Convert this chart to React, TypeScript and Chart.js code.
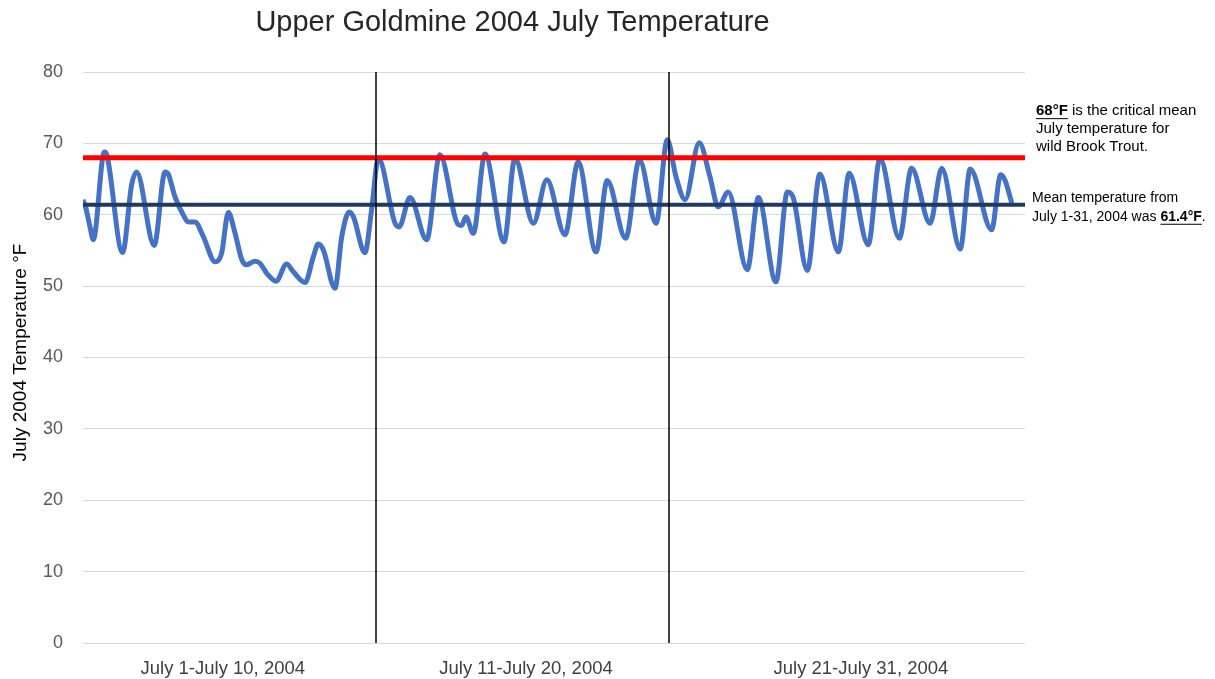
import React, { useEffect, useRef } from "react";
import { Chart, registerables } from "chart.js";

Chart.register(...registerables);

const chartTitle = "Upper Goldmine 2004 July Temperature";
const yAxisTitle = "July 2004 Temperature °F";
const periodLabels = ["July 1-July 10, 2004", "July 11-July 20, 2004", "July 21-July 31, 2004"];
const periodLabelDays = [4.77, 15.12, 26.55];
const periodDividerDays = [10, 20];
const axisMaxDay = 32.15;
const yMin = 0;
const yMax = 80;
const yStep = 10;

const criticalTempF = 68;
const meanTempF = 61.4;

// turning points of the logged temperature curve (day offset, °F)
const tempDays = [
  0, 0.1, 0.24, 0.35, 0.73, 0.82, 1.35, 1.66, 1.83, 2.43, 2.8, 2.91, 3.14, 3.42, 3.59, 3.82,
  4.11, 4.51, 4.73, 4.96, 5.19, 5.42, 5.59, 5.87, 6.04, 6.27, 6.59, 6.95, 7.18, 7.58, 7.86,
  8.03, 8.2, 8.6, 8.83, 9.09, 9.23, 9.62, 9.85, 10.08, 10.65, 10.79, 11.16, 11.73, 12.18,
  12.81, 12.92, 13.07, 13.32, 13.72, 14.37, 14.74, 15.37, 15.83, 16.45, 16.9, 17.51, 17.89,
  18.52, 18.99, 19.56, 19.94, 20.24, 20.55, 21.03, 21.4, 21.68, 22.02, 22.67, 23.05, 23.65,
  24.04, 24.24, 24.72, 25.15, 25.78, 26.15, 26.8, 27.2, 27.86, 28.28, 28.91, 29.31, 29.94,
  30.28, 31.01, 31.32, 31.47, 31.7,
];
const tempValuesF = [
  62.1, 60.9, 58.3, 56.5, 68.8, 68.3, 54.7, 64.2, 66.0, 55.7, 66.0, 65.7, 62.5, 60.0, 59.0, 59.0,
  56.9, 53.4, 54.6, 60.3, 57.4, 53.7, 53.0, 53.5, 53.2, 51.8, 50.7, 53.1, 52.0, 50.5, 54.1,
  55.9, 55.1, 49.7, 56.9, 60.4, 59.7, 54.7, 60.7, 67.9, 58.8, 58.3, 62.4, 56.5, 68.4,
  58.6, 58.5, 59.7, 57.4, 68.5, 56.2, 67.9, 58.8, 64.9, 57.2, 67.4, 54.8, 64.8,
  56.7, 67.7, 58.8, 70.5, 65.3, 62.1, 70.1, 65.3, 61.1, 63.2, 52.3, 62.4, 50.6,
  63.2, 62.4, 52.2, 65.7, 54.8, 65.8, 55.8, 67.9, 56.7, 66.5, 58.8, 66.5, 55.2,
  66.4, 57.9, 65.6, 64.8, 61.6,
];

type Seg = { t: string; b?: boolean };
const criticalNote: Seg[][] = [
  [{ t: "68°F", b: true }, { t: " is the critical mean" }],
  [{ t: "July temperature for" }],
  [{ t: "wild Brook Trout." }],
];
const meanNote: Seg[][] = [
  [{ t: "Mean temperature from" }],
  [{ t: "July 1-31, 2004 was " }, { t: "61.4°F", b: true }, { t: "." }],
];

const FONT = "'Liberation Sans', Arial, sans-serif";

function drawNote(ctx: CanvasRenderingContext2D, lines: Seg[][], x: number, ys: number[], size: number) {
  ctx.textBaseline = "middle";
  ctx.textAlign = "left";
  ctx.fillStyle = "#000000";
  lines.forEach((line, i) => {
    let cx = x;
    const y = ys[i];
    line.forEach((s) => {
      ctx.font = `${s.b ? "bold " : ""}${size}px ${FONT}`;
      ctx.fillText(s.t, cx, y);
      const w = ctx.measureText(s.t).width;
      if (s.b) {
        ctx.fillRect(cx, y + size * 0.5, w, 1);
      }
      cx += w;
    });
  });
}

const textPlugin = {
  id: "textPlugin",
  afterDraw(chart: any) {
    const { ctx, chartArea } = chart;
    const yScale = chart.scales.y;
    ctx.save();
    // title
    ctx.font = `29px ${FONT}`;
    ctx.fillStyle = "#262626";
    ctx.textAlign = "center";
    ctx.textBaseline = "middle";
    ctx.fillText(chartTitle, chartArea.right / 2, 23);
    // y axis title
    ctx.save();
    ctx.translate(21, (chartArea.top + chartArea.bottom) / 2 - 5);
    ctx.rotate(-Math.PI / 2);
    ctx.font = `19px ${FONT}`;
    ctx.fillStyle = "#000000";
    ctx.fillText(yAxisTitle, 0, 0);
    ctx.restore();
    // notes
    const yc = yScale.getPixelForValue(criticalTempF);
    drawNote(ctx, criticalNote, chartArea.right + 11, [yc - 47, yc - 29, yc - 11], 15);
    const ym = yScale.getPixelForValue(meanTempF);
    drawNote(ctx, meanNote, chartArea.right + 7, [ym - 7, ym + 12], 14);
    ctx.restore();
  },
};

export default function App() {
  const ref = useRef<HTMLCanvasElement | null>(null);
  useEffect(() => {
    if (!ref.current) return;
    const dividerSets = periodDividerDays.map((d) => ({
      label: "divider",
      data: [
        { x: d, y: yMin },
        { x: d, y: yMax },
      ],
      borderColor: "#000000",
      borderWidth: 1.5,
      pointRadius: 0,
      order: 1,
    }));
    const chart = new Chart(ref.current, {
      type: "line",
      data: {
        datasets: [
          {
            label: "Temperature",
            data: tempDays.map((d, i) => ({ x: d, y: tempValuesF[i] })),
            borderColor: "#4472C4",
            borderWidth: 5,
            pointRadius: 0,
            cubicInterpolationMode: "monotone",
            order: 5,
          },
          {
            label: "Critical",
            data: [
              { x: 0, y: criticalTempF },
              { x: axisMaxDay, y: criticalTempF },
            ],
            borderColor: "#FF0000",
            borderWidth: 5,
            pointRadius: 0,
            order: 2,
          },
          {
            label: "Mean",
            data: [
              { x: 0, y: meanTempF },
              { x: axisMaxDay, y: meanTempF },
            ],
            borderColor: "#1F3864",
            borderWidth: 4,
            pointRadius: 0,
            order: 3,
          },
          ...dividerSets,
        ] as any,
      },
      options: {
        animation: false,
        responsive: false,
        layout: { padding: { top: 72, right: 190, bottom: 0, left: 0 } },
        plugins: { legend: { display: false }, tooltip: { enabled: false }, title: { display: false } },
        scales: {
          x: {
            type: "linear",
            min: 0,
            max: axisMaxDay,
            grid: { display: false },
            border: { display: false },
            afterBuildTicks: (scale: any) => {
              scale.ticks = periodLabelDays.map((v) => ({ value: v }));
            },
            afterFit: (scale: any) => {
              scale.height = 36;
            },
            ticks: {
              autoSkip: false,
              maxRotation: 0,
              padding: 7,
              color: "#404040",
              font: { family: FONT, size: 18.5 },
              callback: (_v: any, i: number) => periodLabels[i],
            },
          },
          y: {
            min: yMin,
            max: yMax,
            afterFit: (scale: any) => {
              scale.width = 83;
            },
            grid: { color: "#D9D9D9", lineWidth: 1, drawTicks: false },
            border: { display: false },
            ticks: {
              stepSize: yStep,
              padding: 20,
              color: "#595959",
              font: { family: FONT, size: 18 },
            },
          },
        },
      },
      plugins: [textPlugin],
    });
    return () => chart.destroy();
  }, []);
  return (
    <div style={{ position: "absolute", left: 0, top: 0, width: 1215, height: 679, background: "#fff" }}>
      <canvas ref={ref} width={1215} height={679} style={{ display: "block" }} />
    </div>
  );
}
